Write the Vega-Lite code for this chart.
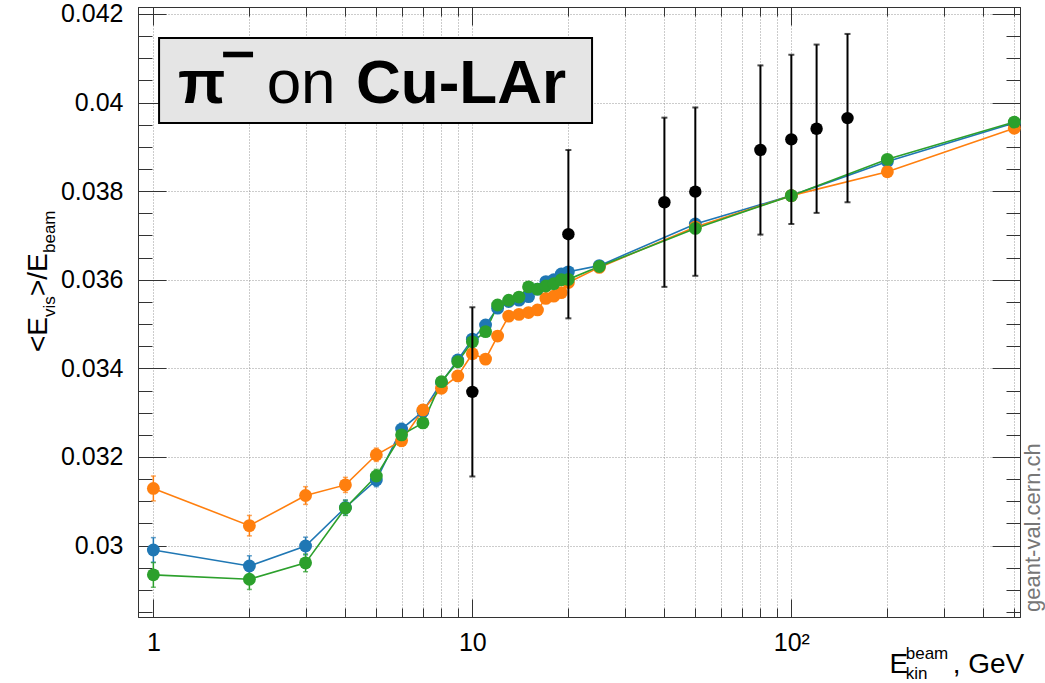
{
  "$schema": "https://vega.github.io/schema/vega-lite/v6.json",
  "width": 882,
  "height": 610,
  "autosize": {"type": "none"},
  "padding": {"left": 138, "top": 7, "right": 25, "bottom": 66},
  "background": "white",
  "config": {
    "font": "Liberation Sans",
    "view": {"stroke": "#333", "strokeWidth": 1},
    "axis": {
      "domainColor": "#333",
      "tickColor": "#333",
      "tickWidth": 1,
      "gridColor": "#999",
      "gridDash": [1, 2],
      "gridWidth": 1,
      "labelColor": "#000",
      "labelFont": "Liberation Sans",
      "labelFontSize": 25,
      "labelFlush": false,
      "labelOverlap": false,
      "labelBound": false,
      "title": null
    }
  },
  "datasets": {
    "mc": [
      {"E": 1, "v": 0.02990, "err": 0.00028, "model": "MC1"},
      {"E": 2, "v": 0.02954, "err": 0.00023, "model": "MC1"},
      {"E": 3, "v": 0.02999, "err": 0.00020, "model": "MC1"},
      {"E": 4, "v": 0.03086, "err": 0.00017, "model": "MC1"},
      {"E": 5, "v": 0.03148, "err": 0.00015, "model": "MC1"},
      {"E": 6, "v": 0.03263, "err": 0.00013, "model": "MC1"},
      {"E": 7, "v": 0.03303, "err": 0.00012, "model": "MC1"},
      {"E": 8, "v": 0.03368, "err": 0.00011, "model": "MC1"},
      {"E": 9, "v": 0.03419, "err": 0.00010, "model": "MC1"},
      {"E": 10, "v": 0.03466, "err": 0.00010, "model": "MC1"},
      {"E": 11, "v": 0.03498, "err": 0.00010, "model": "MC1"},
      {"E": 12, "v": 0.03536, "err": 0.00010, "model": "MC1"},
      {"E": 13, "v": 0.03551, "err": 0.00010, "model": "MC1"},
      {"E": 14, "v": 0.03554, "err": 0.00010, "model": "MC1"},
      {"E": 15, "v": 0.03562, "err": 0.00010, "model": "MC1"},
      {"E": 16, "v": 0.03579, "err": 0.00010, "model": "MC1"},
      {"E": 17, "v": 0.03596, "err": 0.00010, "model": "MC1"},
      {"E": 18, "v": 0.03600, "err": 0.00010, "model": "MC1"},
      {"E": 19, "v": 0.03613, "err": 0.00010, "model": "MC1"},
      {"E": 20, "v": 0.03618, "err": 0.00010, "model": "MC1"},
      {"E": 25, "v": 0.03632, "err": 0.00008, "model": "MC1"},
      {"E": 50, "v": 0.03726, "err": 0.00008, "model": "MC1"},
      {"E": 100, "v": 0.03790, "err": 0.00008, "model": "MC1"},
      {"E": 200, "v": 0.03867, "err": 0.00008, "model": "MC1"},
      {"E": 500, "v": 0.03954, "err": 0.00008, "model": "MC1"},
      {"E": 1, "v": 0.03129, "err": 0.00028, "model": "MC2"},
      {"E": 2, "v": 0.03045, "err": 0.00023, "model": "MC2"},
      {"E": 3, "v": 0.03113, "err": 0.00020, "model": "MC2"},
      {"E": 4, "v": 0.03137, "err": 0.00017, "model": "MC2"},
      {"E": 5, "v": 0.03205, "err": 0.00015, "model": "MC2"},
      {"E": 6, "v": 0.03237, "err": 0.00013, "model": "MC2"},
      {"E": 7, "v": 0.03306, "err": 0.00012, "model": "MC2"},
      {"E": 8, "v": 0.03355, "err": 0.00011, "model": "MC2"},
      {"E": 9, "v": 0.03383, "err": 0.00010, "model": "MC2"},
      {"E": 10, "v": 0.03433, "err": 0.00010, "model": "MC2"},
      {"E": 11, "v": 0.03421, "err": 0.00010, "model": "MC2"},
      {"E": 12, "v": 0.03473, "err": 0.00010, "model": "MC2"},
      {"E": 13, "v": 0.03518, "err": 0.00010, "model": "MC2"},
      {"E": 14, "v": 0.03522, "err": 0.00010, "model": "MC2"},
      {"E": 15, "v": 0.03526, "err": 0.00010, "model": "MC2"},
      {"E": 16, "v": 0.03532, "err": 0.00010, "model": "MC2"},
      {"E": 17, "v": 0.03558, "err": 0.00010, "model": "MC2"},
      {"E": 18, "v": 0.03563, "err": 0.00010, "model": "MC2"},
      {"E": 19, "v": 0.03571, "err": 0.00010, "model": "MC2"},
      {"E": 20, "v": 0.03594, "err": 0.00010, "model": "MC2"},
      {"E": 25, "v": 0.03628, "err": 0.00008, "model": "MC2"},
      {"E": 50, "v": 0.03719, "err": 0.00008, "model": "MC2"},
      {"E": 100, "v": 0.03790, "err": 0.00008, "model": "MC2"},
      {"E": 200, "v": 0.03844, "err": 0.00008, "model": "MC2"},
      {"E": 500, "v": 0.03942, "err": 0.00008, "model": "MC2"},
      {"E": 1, "v": 0.02934, "err": 0.00028, "model": "MC3"},
      {"E": 2, "v": 0.02924, "err": 0.00023, "model": "MC3"},
      {"E": 3, "v": 0.02961, "err": 0.00020, "model": "MC3"},
      {"E": 4, "v": 0.03085, "err": 0.00017, "model": "MC3"},
      {"E": 5, "v": 0.03157, "err": 0.00015, "model": "MC3"},
      {"E": 6, "v": 0.03250, "err": 0.00013, "model": "MC3"},
      {"E": 7, "v": 0.03277, "err": 0.00012, "model": "MC3"},
      {"E": 8, "v": 0.03370, "err": 0.00011, "model": "MC3"},
      {"E": 9, "v": 0.03415, "err": 0.00010, "model": "MC3"},
      {"E": 10, "v": 0.03460, "err": 0.00010, "model": "MC3"},
      {"E": 11, "v": 0.03483, "err": 0.00010, "model": "MC3"},
      {"E": 12, "v": 0.03543, "err": 0.00010, "model": "MC3"},
      {"E": 13, "v": 0.03554, "err": 0.00010, "model": "MC3"},
      {"E": 14, "v": 0.03561, "err": 0.00010, "model": "MC3"},
      {"E": 15, "v": 0.03584, "err": 0.00010, "model": "MC3"},
      {"E": 16, "v": 0.03579, "err": 0.00010, "model": "MC3"},
      {"E": 17, "v": 0.03586, "err": 0.00010, "model": "MC3"},
      {"E": 18, "v": 0.03591, "err": 0.00010, "model": "MC3"},
      {"E": 19, "v": 0.03600, "err": 0.00010, "model": "MC3"},
      {"E": 20, "v": 0.03601, "err": 0.00010, "model": "MC3"},
      {"E": 25, "v": 0.03630, "err": 0.00008, "model": "MC3"},
      {"E": 50, "v": 0.03716, "err": 0.00008, "model": "MC3"},
      {"E": 100, "v": 0.03790, "err": 0.00008, "model": "MC3"},
      {"E": 200, "v": 0.03872, "err": 0.00008, "model": "MC3"},
      {"E": 500, "v": 0.03956, "err": 0.00008, "model": "MC3"}
    ],
    "obs": [
      {"E": 10, "v": 0.03347, "err": 0.00191},
      {"E": 20, "v": 0.03703, "err": 0.00190},
      {"E": 40, "v": 0.03775, "err": 0.00191},
      {"E": 50, "v": 0.03799, "err": 0.00190},
      {"E": 80, "v": 0.03893, "err": 0.00191},
      {"E": 100, "v": 0.03917, "err": 0.00191},
      {"E": 120, "v": 0.03941, "err": 0.00190},
      {"E": 150, "v": 0.03965, "err": 0.00190}
    ],
    "one": [{}]
  },
  "layer": [
    {
      "data": {"name": "obs"},
      "mark": {"type": "point", "opacity": 0},
      "encoding": {
        "x": {
          "field": "E", "type": "quantitative",
          "scale": {"type": "log", "domain": [0.895, 521], "nice": false},
          "axis": {
            "orient": "bottom",
            "values": [1,2,3,4,5,6,7,8,9,10,20,30,40,50,60,70,80,90,100,200,300,400,500],
            "labelExpr": "datum.value == 1 ? '1' : datum.value == 10 ? '10' : datum.value == 100 ? '10²' : ''",
            "tickSize": {"condition": {"test": "datum.value == 1 || datum.value == 10 || datum.value == 100", "value": -18}, "value": -9},
            "grid": true,
            "labelPadding": 31
          }
        },
        "y": {
          "field": "v", "type": "quantitative",
          "scale": {"domain": [0.028388, 0.042158], "nice": false, "zero": false},
          "axis": {
            "orient": "left",
            "values": [0.0285,0.029,0.0295,0.03,0.0305,0.031,0.0315,0.032,0.0325,0.033,0.0335,0.034,0.0345,0.035,0.0355,0.036,0.0365,0.037,0.0375,0.038,0.0385,0.039,0.0395,0.04,0.0405,0.041,0.0415,0.042],
            "labelExpr": "abs(datum.value*500 - round(datum.value*500)) < 1e-6 ? format(datum.value, '~g') : ''",
            "tickSize": {"condition": {"test": "abs(datum.value*500 - round(datum.value*500)) < 1e-6", "value": -28}, "value": -14},
            "grid": true,
            "gridOpacity": {"condition": {"test": "abs(datum.value*500 - round(datum.value*500)) < 1e-6", "value": 1}, "value": 0},
            "labelPadding": 43
          }
        }
      }
    },
    {
      "data": {"name": "obs"},
      "mark": {"type": "point", "opacity": 0},
      "encoding": {
        "x": {
          "field": "E", "type": "quantitative",
          "scale": {"type": "log", "domain": [0.895, 521], "nice": false},
          "axis": {
            "orient": "top",
            "values": [1,2,3,4,5,6,7,8,9,10,20,30,40,50,60,70,80,90,100,200,300,400,500],
            "labels": false,
            "grid": false,
            "tickSize": {"condition": {"test": "datum.value == 1 || datum.value == 10 || datum.value == 100", "value": -18}, "value": -9}
          }
        },
        "y": {
          "field": "v", "type": "quantitative",
          "scale": {"domain": [0.028388, 0.042158], "nice": false, "zero": false},
          "axis": {
            "orient": "right",
            "values": [0.0285,0.029,0.0295,0.03,0.0305,0.031,0.0315,0.032,0.0325,0.033,0.0335,0.034,0.0345,0.035,0.0355,0.036,0.0365,0.037,0.0375,0.038,0.0385,0.039,0.0395,0.04,0.0405,0.041,0.0415,0.042],
            "labels": false,
            "grid": false,
            "tickSize": {"condition": {"test": "abs(datum.value*500 - round(datum.value*500)) < 1e-6", "value": -28}, "value": -14}
          }
        }
      }
    },
    {
      "data": {"name": "one"},
      "mark": {"type": "rect", "fill": "#e5e5e5", "stroke": "#000", "strokeWidth": 2},
      "encoding": {
        "x": {"datum": 1.042, "type": "quantitative", "scale": {"type": "log", "domain": [0.895, 521], "nice": false}, "axis": null},
        "x2": {"datum": 23.727},
        "y": {"datum": 0.041458, "type": "quantitative", "scale": {"domain": [0.028388, 0.042158], "nice": false, "zero": false}, "axis": null},
        "y2": {"datum": 0.039539}
      }
    },
    {
      "data": {"name": "mc"},
      "mark": {"type": "line", "strokeWidth": 1.6},
      "encoding": {
        "x": {"field": "E", "type": "quantitative", "scale": {"type": "log", "domain": [0.895, 521], "nice": false}, "axis": null},
        "y": {"field": "v", "type": "quantitative", "scale": {"domain": [0.028388, 0.042158], "nice": false, "zero": false}, "axis": null},
        "color": {"field": "model", "type": "nominal", "scale": {"domain": ["MC1", "MC2", "MC3"], "range": ["#1f77b4", "#ff7f0e", "#2ca02c"]}, "legend": null}
      }
    },
    {
      "data": {"name": "mc"},
      "mark": {"type": "errorbar", "ticks": true, "size": 5, "thickness": 1.5},
      "encoding": {
        "x": {"field": "E", "type": "quantitative", "scale": {"type": "log", "domain": [0.895, 521], "nice": false}, "axis": null},
        "y": {"field": "v", "type": "quantitative", "scale": {"domain": [0.028388, 0.042158], "nice": false, "zero": false}, "axis": null},
        "yError": {"field": "err"},
        "color": {"field": "model", "type": "nominal", "scale": {"domain": ["MC1", "MC2", "MC3"], "range": ["#1f77b4", "#ff7f0e", "#2ca02c"]}, "legend": null}
      }
    },
    {
      "data": {"name": "mc"},
      "mark": {"type": "point", "filled": true, "size": 165, "opacity": 1},
      "encoding": {
        "x": {"field": "E", "type": "quantitative", "scale": {"type": "log", "domain": [0.895, 521], "nice": false}, "axis": null},
        "y": {"field": "v", "type": "quantitative", "scale": {"domain": [0.028388, 0.042158], "nice": false, "zero": false}, "axis": null},
        "color": {"field": "model", "type": "nominal", "scale": {"domain": ["MC1", "MC2", "MC3"], "range": ["#1f77b4", "#ff7f0e", "#2ca02c"]}, "legend": null}
      }
    },
    {
      "data": {"name": "obs"},
      "mark": {"type": "errorbar", "ticks": true, "size": 6, "thickness": 2, "color": "#000"},
      "encoding": {
        "x": {"field": "E", "type": "quantitative", "scale": {"type": "log", "domain": [0.895, 521], "nice": false}, "axis": null},
        "y": {"field": "v", "type": "quantitative", "scale": {"domain": [0.028388, 0.042158], "nice": false, "zero": false}, "axis": null},
        "yError": {"field": "err"}
      }
    },
    {
      "data": {"name": "obs"},
      "mark": {"type": "point", "filled": true, "size": 155, "opacity": 1, "color": "#000"},
      "encoding": {
        "x": {"field": "E", "type": "quantitative", "scale": {"type": "log", "domain": [0.895, 521], "nice": false}, "axis": null},
        "y": {"field": "v", "type": "quantitative", "scale": {"domain": [0.028388, 0.042158], "nice": false, "zero": false}, "axis": null}
      }
    },
    {
      "data": {"name": "one"},
      "mark": {"type": "rect", "fill": "#000"},
      "encoding": {
        "x": {"datum": 1.6543, "type": "quantitative", "scale": {"type": "log", "domain": [0.895, 521], "nice": false}, "axis": null},
        "x2": {"datum": 2.0535},
        "y": {"datum": 0.041149, "type": "quantitative", "scale": {"domain": [0.028388, 0.042158], "nice": false, "zero": false}, "axis": null},
        "y2": {"datum": 0.041023}
      }
    },
    {
      "data": {"name": "one"},
      "mark": {"type": "text", "text": "π", "fontSize": 62, "fontWeight": "bold", "align": "left", "baseline": "alphabetic", "color": "#000"},
      "encoding": {
        "x": {"datum": 1.1952, "type": "quantitative", "scale": {"type": "log", "domain": [0.895, 521], "nice": false}, "axis": null},
        "y": {"datum": 0.039991, "type": "quantitative", "scale": {"domain": [0.028388, 0.042158], "nice": false, "zero": false}, "axis": null}
      }
    },
    {
      "data": {"name": "one"},
      "mark": {"type": "text", "text": "on", "fontSize": 62, "fontWeight": "normal", "align": "left", "baseline": "alphabetic", "color": "#000"},
      "encoding": {
        "x": {"datum": 2.265, "type": "quantitative", "scale": {"type": "log", "domain": [0.895, 521], "nice": false}, "axis": null},
        "y": {"datum": 0.039991, "type": "quantitative", "scale": {"domain": [0.028388, 0.042158], "nice": false, "zero": false}, "axis": null}
      }
    },
    {
      "data": {"name": "one"},
      "mark": {"type": "text", "text": "Cu-LAr", "fontSize": 62, "fontWeight": "bold", "align": "left", "baseline": "alphabetic", "color": "#000"},
      "encoding": {
        "x": {"datum": 4.319, "type": "quantitative", "scale": {"type": "log", "domain": [0.895, 521], "nice": false}, "axis": null},
        "y": {"datum": 0.039991, "type": "quantitative", "scale": {"domain": [0.028388, 0.042158], "nice": false, "zero": false}, "axis": null}
      }
    },
    {
      "data": {"name": "one"},
      "mark": {"type": "text", "text": "E", "fontSize": 28, "align": "left", "baseline": "alphabetic", "color": "#000"},
      "encoding": {
        "x": {"datum": 203.2, "type": "quantitative", "scale": {"type": "log", "domain": [0.895, 521], "nice": false}, "axis": null},
        "y": {"datum": 0.027124, "type": "quantitative", "scale": {"domain": [0.028388, 0.042158], "nice": false, "zero": false}, "axis": null}
      }
    },
    {
      "data": {"name": "one"},
      "mark": {"type": "text", "text": "beam", "fontSize": 17, "align": "left", "baseline": "alphabetic", "color": "#000"},
      "encoding": {
        "x": {"datum": 228.4, "type": "quantitative", "scale": {"type": "log", "domain": [0.895, 521], "nice": false}, "axis": null},
        "y": {"datum": 0.027441, "type": "quantitative", "scale": {"domain": [0.028388, 0.042158], "nice": false, "zero": false}, "axis": null}
      }
    },
    {
      "data": {"name": "one"},
      "mark": {"type": "text", "text": "kin", "fontSize": 17, "align": "left", "baseline": "alphabetic", "color": "#000"},
      "encoding": {
        "x": {"datum": 228.4, "type": "quantitative", "scale": {"type": "log", "domain": [0.895, 521], "nice": false}, "axis": null},
        "y": {"datum": 0.026989, "type": "quantitative", "scale": {"domain": [0.028388, 0.042158], "nice": false, "zero": false}, "axis": null}
      }
    },
    {
      "data": {"name": "one"},
      "mark": {"type": "text", "text": ", GeV", "fontSize": 28, "align": "left", "baseline": "alphabetic", "color": "#000"},
      "encoding": {
        "x": {"datum": 320.4, "type": "quantitative", "scale": {"type": "log", "domain": [0.895, 521], "nice": false}, "axis": null},
        "y": {"datum": 0.027124, "type": "quantitative", "scale": {"domain": [0.028388, 0.042158], "nice": false, "zero": false}, "axis": null}
      }
    },
    {
      "data": {"name": "one"},
      "mark": {"type": "text", "text": "<E", "fontSize": 28, "angle": 270, "align": "left", "baseline": "alphabetic", "color": "#000"},
      "encoding": {
        "x": {"datum": 0.4644, "type": "quantitative", "scale": {"type": "log", "domain": [0.895, 521], "nice": false}, "axis": null},
        "y": {"datum": 0.03437, "type": "quantitative", "scale": {"domain": [0.028388, 0.042158], "nice": false, "zero": false}, "axis": null}
      }
    },
    {
      "data": {"name": "one"},
      "mark": {"type": "text", "text": "vis", "fontSize": 17, "angle": 270, "align": "left", "baseline": "alphabetic", "color": "#000"},
      "encoding": {
        "x": {"datum": 0.4917, "type": "quantitative", "scale": {"type": "log", "domain": [0.895, 521], "nice": false}, "axis": null},
        "y": {"datum": 0.03516, "type": "quantitative", "scale": {"domain": [0.028388, 0.042158], "nice": false, "zero": false}, "axis": null}
      }
    },
    {
      "data": {"name": "one"},
      "mark": {"type": "text", "text": ">/E", "fontSize": 28, "angle": 270, "align": "left", "baseline": "alphabetic", "color": "#000"},
      "encoding": {
        "x": {"datum": 0.4644, "type": "quantitative", "scale": {"type": "log", "domain": [0.895, 521], "nice": false}, "axis": null},
        "y": {"datum": 0.035634, "type": "quantitative", "scale": {"domain": [0.028388, 0.042158], "nice": false, "zero": false}, "axis": null}
      }
    },
    {
      "data": {"name": "one"},
      "mark": {"type": "text", "text": "beam", "fontSize": 17, "angle": 270, "align": "left", "baseline": "alphabetic", "color": "#000"},
      "encoding": {
        "x": {"datum": 0.4917, "type": "quantitative", "scale": {"type": "log", "domain": [0.895, 521], "nice": false}, "axis": null},
        "y": {"datum": 0.036605, "type": "quantitative", "scale": {"domain": [0.028388, 0.042158], "nice": false, "zero": false}, "axis": null}
      }
    },
    {
      "data": {"name": "one"},
      "mark": {"type": "text", "text": "geant-val.cern.ch", "fontSize": 22, "angle": 270, "align": "left", "baseline": "alphabetic", "color": "#777"},
      "encoding": {
        "x": {"datum": 602.0, "type": "quantitative", "scale": {"type": "log", "domain": [0.895, 521], "nice": false}, "axis": null},
        "y": {"datum": 0.028501, "type": "quantitative", "scale": {"domain": [0.028388, 0.042158], "nice": false, "zero": false}, "axis": null}
      }
    }
  ],
  "resolve": {"axis": {"x": "independent", "y": "independent"}}
}
